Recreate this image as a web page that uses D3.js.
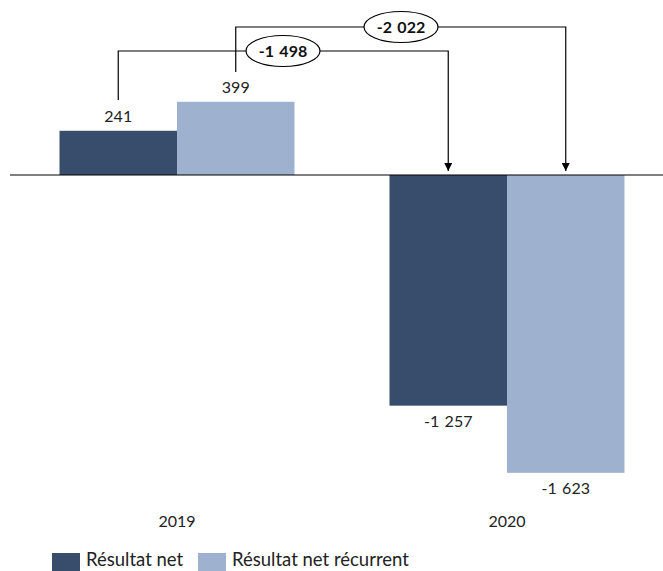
<!DOCTYPE html>
<html><head><meta charset="utf-8">
<script src="https://cdn.jsdelivr.net/npm/d3@7"></script>
<style>body{margin:0;background:#fff}svg{display:block}text{font-family:Lato,"Open Sans",sans-serif}</style>
</head><body>
<svg id="c" width="663" height="571"></svg>
<script>
const years = ["2019", "2020"];
const seriesNames = ["Résultat net", "Résultat net récurrent"];
const resultatNet = [241, -1257];
const resultatNetRecurrent = [399, -1623];
const colors = ["#384c6c", "#9eb1cf"];

const values = [resultatNet, resultatNetRecurrent];
const fmt = d3.formatLocale({decimal: ",", thousands: "\u2004", grouping: [3], currency: ["", "€"], minus: "-"}).format(",d");

const svg = d3.select("#c");
const x = d3.scaleBand().domain(years).range([12, 672]).padding(0);
const x1 = d3.scaleBand().domain(d3.range(2)).range([47.5, 282.5]).padding(0);
const y = d3.scaleLinear().domain([-1700, 500]).range([175 + 1700 * 0.1835, 175 - 500 * 0.1835]);

const bars = [];
years.forEach((yr, i) => values.forEach((vals, s) => bars.push({yr, s, v: vals[i]})));

svg.selectAll("rect.bar").data(bars).join("rect").attr("class", "bar")
  .attr("x", d => x(d.yr) + x1(d.s))
  .attr("width", x1.bandwidth())
  .attr("y", d => y(Math.max(0, d.v)))
  .attr("height", d => Math.abs(y(d.v) - y(0)))
  .attr("fill", d => colors[d.s]);

svg.append("line").attr("x1", 10).attr("x2", 663).attr("y1", y(0)).attr("y2", y(0))
  .attr("stroke", "#000").attr("stroke-width", 1.2);

svg.selectAll("text.val").data(bars).join("text").attr("class", "val")
  .attr("x", d => x(d.yr) + x1(d.s) + x1.bandwidth() / 2)
  .attr("y", d => d.v >= 0 ? y(d.v) - 9 : y(d.v) + 21)
  .attr("text-anchor", "middle").attr("font-size", 16).attr("fill", "#222")
  .text(d => fmt(d.v));

svg.selectAll("text.yr").data(years).join("text").attr("class", "yr")
  .attr("x", d => x(d) + x.bandwidth() / 2).attr("y", 527)
  .attr("text-anchor", "middle").attr("font-size", 16).attr("fill", "#222").text(d => d);

// annotations: difference between 2020 and 2019 per series
const levels = [51, 27];
const startTop = [100, 72];
const ellipseX = [283, 401];
svg.append("defs").append("marker").attr("id", "arr").attr("viewBox", "0 0 10 10")
  .attr("refX", 10).attr("refY", 5).attr("markerWidth", 8).attr("markerHeight", 8)
  .attr("markerUnits", "userSpaceOnUse").attr("orient", "auto")
  .append("path").attr("d", "M0,0L10,5L0,10Z").attr("fill", "#000");

values.forEach((vals, s) => {
  const xa = x(years[0]) + x1(s) + x1.bandwidth() / 2;
  const xb = x(years[1]) + x1(s) + x1.bandwidth() / 2;
  const ly = levels[s];
  svg.append("path")
    .attr("d", `M${xa},${startTop[s]}V${ly}H${xb}V${y(0) - 4}`)
    .attr("fill", "none").attr("stroke", "#000").attr("stroke-width", 1.2)
    .attr("marker-end", "url(#arr)");
  svg.append("ellipse").attr("cx", ellipseX[s]).attr("cy", ly).attr("rx", 37).attr("ry", 15.5)
    .attr("fill", "#fff").attr("stroke", "#000").attr("stroke-width", 1.2);
  svg.append("text").attr("x", ellipseX[s]).attr("y", ly + 6).attr("text-anchor", "middle")
    .attr("font-size", 16).attr("font-weight", "bold").attr("fill", "#111")
    .text(fmt(vals[1] - vals[0]));
});

// legend
const legX = [52, 198];
seriesNames.forEach((n, s) => {
  svg.append("rect").attr("x", legX[s]).attr("y", 553).attr("width", 28).attr("height", 18).attr("fill", colors[s]);
  svg.append("text").attr("x", legX[s] + 34).attr("y", 566).attr("font-size", 18.5).attr("fill", "#222").text(n);
});
</script>
</body></html>
